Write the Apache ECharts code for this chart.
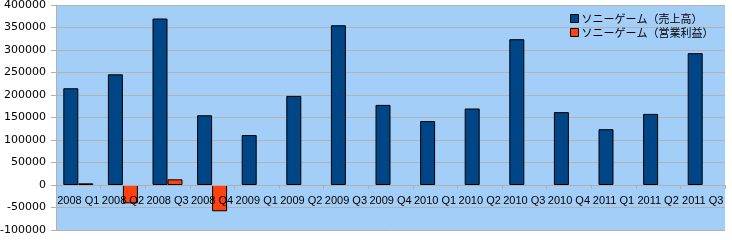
<!DOCTYPE html>
<html><head><meta charset="utf-8">
<script src="https://cdn.jsdelivr.net/npm/echarts@6/dist/echarts.min.js"></script>
<style>html,body{margin:0;padding:0;background:#fff}#c{width:732px;height:240px}</style>
</head><body><div id="c"></div>
<script>
const categories = ["2008 Q1","2008 Q2","2008 Q3","2008 Q4","2009 Q1","2009 Q2","2009 Q3","2009 Q4","2010 Q1","2010 Q2","2010 Q3","2010 Q4","2011 Q1","2011 Q2","2011 Q3"];
const sales = [215000,246000,370000,155000,111000,198000,355000,178000,142000,170000,324000,162000,124000,158000,293000];
const profit = [3700,-40700,12600,-58400,null,null,null,null,null,null,null,null,null,null,null];
const seriesNames = ["ソニーゲーム（売上高）","ソニーゲーム（営業利益）"];

const chart = echarts.init(document.getElementById('c'), null, {renderer:'canvas'});
chart.setOption({
  animation:false,
  backgroundColor:'#ffffff',
  grid:{left:56,right:7,top:5,bottom:10,show:true,backgroundColor:'#a2cef8',borderWidth:0,
        containLabel:false,outerBoundsMode:'none'},
  legend:{
    data:seriesNames, orient:'vertical', left:565, top:8, icon:'rect',
    itemWidth:8, itemHeight:8, itemGap:3,
    itemStyle:{borderColor:'#000',borderWidth:1},
    textStyle:{fontFamily:'"Noto Sans CJK JP"',fontSize:11,color:'#000',padding:[0,0,0,-2]}
  },
  xAxis:{
    type:'category', data:categories, boundaryGap:true, position:'bottom', offset:-45, z:5,
    axisLine:{onZero:false,lineStyle:{color:'#b0b0b0',width:1}},
    axisTick:{show:true,length:4,lineStyle:{color:'#b0b0b0'}},
    axisLabel:{margin:10,fontFamily:'"Liberation Sans"',fontSize:11,color:'#000',interval:0,hideOverlap:false}
  },
  yAxis:{
    type:'value', min:-100000, max:400000, interval:50000,
    axisLine:{show:true,lineStyle:{color:'#b0b0b0'}},
    axisTick:{show:true,length:5,lineStyle:{color:'#b0b0b0'}},
    splitLine:{lineStyle:{color:'#b3b3b3',width:1}},
    axisLabel:{margin:10,fontFamily:'"DejaVu Sans"',fontSize:11,color:'#000',formatter:v=>String(v)}
  },
  series:[
    {name:seriesNames[0],type:'bar',data:sales,barWidth:15,barGap:'0%',z:2,
     itemStyle:{color:'#004586',borderColor:'#000',borderWidth:1}},
    {name:seriesNames[1],type:'bar',data:profit,barWidth:15,barGap:'0%',z:2,
     itemStyle:{color:'#ff420e',borderColor:'#000',borderWidth:1}}
  ]
});
</script></body></html>
